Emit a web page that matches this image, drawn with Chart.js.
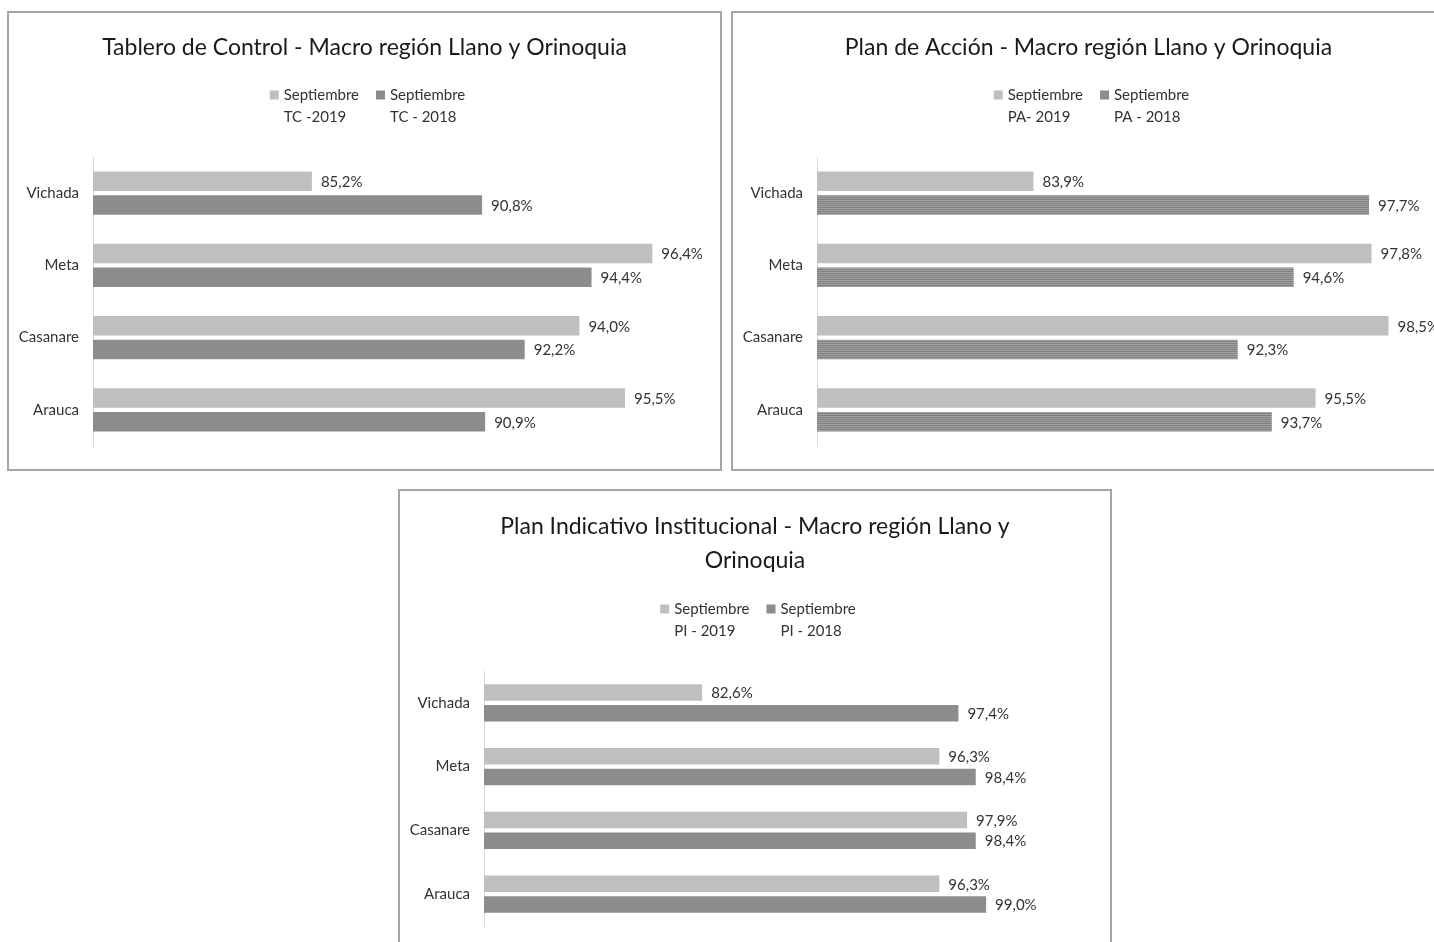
<!DOCTYPE html>
<html>
<head>
<meta charset="utf-8">
<script src="https://cdn.jsdelivr.net/npm/chart.js@4.4.1/dist/chart.umd.min.js"></script>
<style>
html,body{margin:0;padding:0;background:#fff;}
body{width:1434px;height:942px;overflow:hidden;position:relative;}
.box{position:absolute;border:2px solid #a6a6a6;background:#fff;overflow:hidden;}
.box canvas{display:block;}
</style>
</head>
<body>
<div class="box" style="left:7px;top:11px;width:711px;height:456px;"><canvas id="c1" width="711" height="456"></canvas></div>
<div class="box" style="left:731px;top:11px;width:711px;height:456px;"><canvas id="c2" width="711" height="456"></canvas></div>
<div class="box" style="left:398px;top:489px;width:710px;height:460px;"><canvas id="c3" width="710" height="460"></canvas></div>
<script>
// ---- data ----
const categories = ['Vichada', 'Meta', 'Casanare', 'Arauca'];

const tcTitle = 'Tablero de Control - Macro región Llano y Orinoquia';
const tc2019 = [85.2, 96.4, 94.0, 95.5];
const tc2018 = [90.8, 94.4, 92.2, 90.9];
const tcLegend = [['Septiembre', 'TC -2019'], ['Septiembre', 'TC - 2018']];

const paTitle = 'Plan de Acción - Macro región Llano y Orinoquia';
const pa2019 = [83.9, 97.8, 98.5, 95.5];
const pa2018 = [97.7, 94.6, 92.3, 93.7];
const paLegend = [['Septiembre', 'PA- 2019'], ['Septiembre', 'PA - 2018']];

const piTitle = ['Plan Indicativo Institucional - Macro región Llano y', 'Orinoquia'];
const pi2019 = [82.6, 96.3, 97.9, 96.3];
const pi2018 = [97.4, 98.4, 98.4, 99.0];
const piLegend = [['Septiembre', 'PI - 2019'], ['Septiembre', 'PI - 2018']];

const tcRange = [78, 98];
const paRange = [75, 100];
const piRange = [70, 105];

// ---- styling ----
const FONT = "Lato, 'Open Sans', 'Liberation Sans', sans-serif";
const LIGHT = '#bfbfbf';
const DARK = '#8c8c8c';
const TEXT = '#333333';

function noisePattern() {
  const c = document.createElement('canvas');
  c.width = 4; c.height = 4;
  const g = c.getContext('2d');
  const cols = ['#8a8a8a', '#929292', '#8e8e8e', '#888888'];
  for (let y = 0; y < 4; y++) for (let x = 0; x < 4; x++) {
    g.fillStyle = cols[(x * 3 + y) % 4];
    g.fillRect(x, y, 1, 1);
  }
  return g.createPattern(c, 'repeat');
}
function stripePattern() {
  const c = document.createElement('canvas');
  c.width = 4; c.height = 2;
  const g = c.getContext('2d');
  g.fillStyle = '#7f7f7f'; g.fillRect(0, 0, 4, 1);
  g.fillStyle = '#a2a2a2'; g.fillRect(0, 1, 4, 1);
  return g.createPattern(c, 'repeat');
}

const valueLabels = {
  id: 'valueLabels',
  afterDatasetsDraw(chart) {
    const ctx = chart.ctx;
    ctx.save();
    ctx.font = '15px ' + FONT;
    ctx.fillStyle = TEXT;
    ctx.textAlign = 'left';
    ctx.textBaseline = 'middle';
    chart.data.datasets.forEach((ds, di) => {
      const meta = chart.getDatasetMeta(di);
      meta.data.forEach((bar, i) => {
        const v = ds.data[i];
        const txt = v.toFixed(1).replace('.', ',') + '%';
        ctx.fillText(txt, bar.x + 9, bar.y + 1);
      });
    });
    ctx.restore();
  }
};

const splitLegend = {
  id: 'splitLegend',
  afterDraw(chart, args, opts) {
    if (!opts || !opts.items) return;
    const ctx = chart.ctx;
    ctx.save();
    ctx.font = opts.fontSize + 'px ' + FONT;
    ctx.textBaseline = 'middle';
    ctx.textAlign = 'left';
    const box = 9, gap = 5, between = 17;
    const widths = opts.items.map(it => box + gap + Math.max(...it.lines.map(l => ctx.measureText(l).width)));
    const total = widths.reduce((a, b) => a + b, 0) + between * (widths.length - 1);
    let x = (chart.width - total) / 2 + 3;
    opts.items.forEach((it, k) => {
      ctx.fillStyle = it.color;
      ctx.fillRect(x, opts.y - box / 2, box, box);
      ctx.fillStyle = TEXT;
      it.lines.forEach((l, j) => ctx.fillText(l, x + box + gap, opts.y + j * opts.lineGap));
      x += widths[k] + between;
    });
    ctx.restore();
  }
};

function makeChart(id, title, legendLabels, s19, s18, range, darkFill, lay) {
  const ctx = document.getElementById(id).getContext('2d');
  return new Chart(ctx, {
    type: 'bar',
    data: {
      labels: categories,
      datasets: [
        { label: legendLabels[0].join(' '), data: s19, backgroundColor: LIGHT, borderWidth: 0,
          categoryPercentage: lay.cat, barPercentage: lay.bar },
        { label: legendLabels[1].join(' '), data: s18, backgroundColor: darkFill, borderWidth: 0,
          categoryPercentage: lay.cat, barPercentage: lay.bar }
      ]
    },
    options: {
      indexAxis: 'y',
      responsive: false,
      animation: false,
      events: [],
      layout: { padding: { left: 0, right: 0, top: 0, bottom: lay.bottom } },
      scales: {
        x: { display: false, min: range[0], max: range[1] },
        y: {
          position: 'left',
          afterFit(scale) { scale.width = 84; },
          grid: { display: false, drawTicks: false },
          border: { display: true, color: '#d9d9d9', width: 1 },
          ticks: { padding: 14, color: TEXT, font: { family: FONT, size: 15 } }
        },
        spacer: {
          type: 'category', position: 'right', axis: 'y',
          afterFit(scale) { scale.width = lay.side; },
          grid: { display: false, drawTicks: false },
          border: { display: false },
          ticks: { display: false }
        }
      },
      plugins: {
        legend: { display: false },
        tooltip: { enabled: false },
        title: {
          display: true, text: title, color: '#1a1a1a',
          font: { family: FONT, size: 23, weight: 'normal', lineHeight: lay.titleLH },
          padding: { top: lay.titleTop, bottom: lay.titleBottom }
        },
        splitLegend: {
          y: lay.legendY, lineGap: 22, fontSize: 15,
          items: [
            { color: LIGHT, lines: legendLabels[0] },
            { color: DARK, lines: legendLabels[1] }
          ]
        }
      }
    },
    plugins: [valueLabels, splitLegend]
  });
}

const layTop = { side: 19, bottom: 22, titleLH: 1.2, titleTop: 21.2, titleBottom: 95.2, legendY: 82, cat: 0.66, bar: 0.82 };
const layPI = { side: 20, bottom: 25, titleLH: 34 / 23, titleTop: 19, titleBottom: 93, legendY: 118, cat: 0.645, bar: 0.8 };

makeChart('c1', tcTitle, tcLegend, tc2019, tc2018, tcRange, noisePattern(), layTop);
makeChart('c2', paTitle, paLegend, pa2019, pa2018, paRange, stripePattern(), layTop);
makeChart('c3', piTitle, piLegend, pi2019, pi2018, piRange, noisePattern(), layPI);
</script>
</body>
</html>
